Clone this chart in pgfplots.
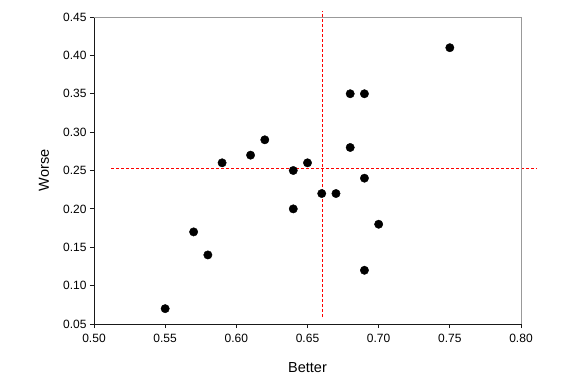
\documentclass[border=0pt]{standalone}
\usepackage{pgfplots}
\pgfplotsset{compat=1.18}
\usepackage{fontspec}
\setmainfont{Liberation Sans}
\definecolor{refred}{RGB}{255,0,0}
\begin{document}
\begin{tikzpicture}[x=1pt,y=1pt]
\begin{axis}[
  scale only axis,
  width=427pt, height=307pt,
  xmin=0.5, xmax=0.8, ymin=0.05, ymax=0.45,
  xtick={0.5,0.55,...,0.8}, ytick={0.05,0.1,...,0.45},
  axis lines=left,
  axis line style={-, line width=0.9pt, black!90},
  tick style={line width=0.8pt, black!90},
  tick align=outside,
  major tick length=4pt,
  xticklabel style={/pgf/number format/.cd, fixed, fixed zerofill, precision=2},
  yticklabel style={/pgf/number format/.cd, fixed, fixed zerofill, precision=2},
  /pgf/number format/assume math mode=true,
  ticklabel style={font=\fontsize{12}{14}\selectfont, text=black},
  xticklabel shift=3pt,
  xlabel={Better}, ylabel={Worse},
  label style={font=\fontsize{14.5}{16}\selectfont, text=black},
  xlabel style={at={(axis description cs:0.5,-0.1564)}, anchor=base},
  ylabel style={at={(axis description cs:-0.1171,0.5)}, anchor=center},
  clip=false,
]
\addplot[only marks, mark=*, mark size=4.2pt, black] coordinates {
(0.75,0.41) (0.68,0.35) (0.69,0.35) (0.68,0.28) (0.62,0.29) (0.61,0.27)
(0.59,0.26) (0.65,0.26) (0.64,0.25) (0.69,0.24) (0.66,0.22) (0.67,0.22)
(0.64,0.20) (0.70,0.18) (0.57,0.17) (0.58,0.14) (0.69,0.12) (0.55,0.07)
};
\addplot[refred, no marks, line width=1.1pt, dash pattern=on 3pt off 2pt] coordinates {(0.512,0.253) (0.811,0.253)};
\addplot[refred, no marks, line width=1.2pt, dash pattern=on 3pt off 2pt] coordinates {(0.6604,0.059) (0.6604,0.458)};
\draw[gray!80, line width=0.9pt] (rel axis cs:0,1) -- (rel axis cs:1,1) -- (rel axis cs:1,0);
\end{axis}
\path (-94pt,-64pt) rectangle (482pt,324pt);
\end{tikzpicture}
\end{document}
